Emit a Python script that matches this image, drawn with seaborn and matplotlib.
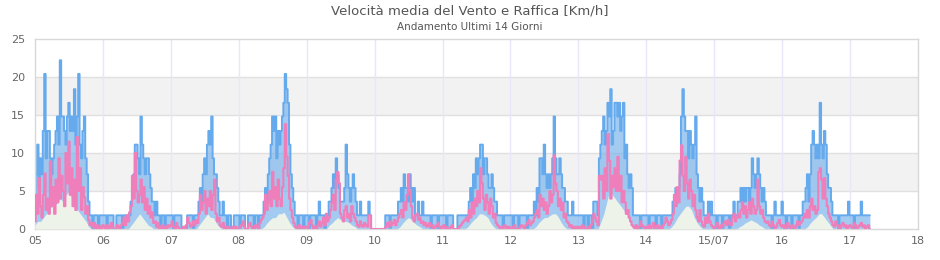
import numpy as np
import pandas as pd
import matplotlib
matplotlib.use("Agg")
import matplotlib.pyplot as plt
import seaborn as sns

# etichette asse x (un giorno per tacca)
day_labels = ["05", "06", "07", "08", "09", "10", "11", "12", "13", "14", "15/07", "16", "17", "18"]

# raffica [km/h], un valore ogni 30 minuti
gust_05 = [3.6, 7.2, 11.1, 5.4, 9.3, 7.2, 12.9, 20.4, 9.3, 12.9, 12.9, 9.3, 7.2, 9.3, 11.1, 12.9, 14.8, 11.1, 22.2, 14.8, 14.8, 12.9, 11.1, 14.8,
           16.6, 12.9, 14.8, 12.9, 18.4, 11.1, 14.8, 20.4, 11.1, 9.3, 12.9, 14.8, 9.3, 7.2, 3.6, 1.8, 1.8, 0, 1.8, 1.8, 1.8, 0, 1.8, 1.8]
gust_06 = [1.8, 1.8, 1.8, 0, 1.8, 1.8, 1.8, 1.8, 0, 0, 1.8, 1.8, 1.8, 1.8, 0, 1.8, 1.8, 1.8, 1.8, 1.8, 3.6, 5.4, 7.2, 11.1,
           11.1, 9.3, 7.2, 14.8, 11.1, 9.3, 7.2, 9.3, 9.3, 7.2, 5.4, 3.6, 3.6, 1.8, 3.6, 1.8, 1.8, 0, 1.8, 1.8, 0, 1.8, 1.8, 1.8]
gust_07 = [1.8, 1.8, 0, 1.8, 1.8, 1.8, 1.8, 1.8, 0, 0, 0, 0, 1.8, 1.8, 1.8, 1.8, 0, 1.8, 1.8, 1.8, 3.6, 5.4, 3.6, 7.2,
           9.3, 7.2, 11.1, 12.9, 11.1, 14.8, 9.3, 7.2, 7.2, 5.4, 3.6, 1.8, 1.8, 3.6, 1.8, 1.8, 0, 1.8, 1.8, 0, 0, 1.8, 1.8, 1.8]
gust_08 = [1.8, 0, 1.8, 1.8, 1.8, 0, 0, 1.8, 1.8, 1.8, 1.8, 0, 1.8, 1.8, 0, 1.8, 1.8, 1.8, 3.6, 5.4, 3.6, 7.2, 9.3, 11.1,
           14.8, 12.9, 14.8, 9.3, 12.9, 11.1, 12.9, 14.8, 16.6, 20.4, 18.4, 16.6, 11.1, 7.2, 5.4, 3.6, 1.8, 1.8, 0, 1.8, 1.8, 1.8, 0, 1.8]
gust_09 = [1.8, 1.8, 0, 1.8, 1.8, 1.8, 1.8, 0, 1.8, 3.6, 1.8, 1.8, 1.8, 0, 1.8, 1.8, 3.6, 3.6, 5.4, 7.2, 5.4, 9.3, 7.2, 5.4,
           3.6, 3.6, 3.6, 5.4, 11.1, 7.2, 5.4, 3.6, 5.4, 7.2, 5.4, 3.6, 1.8, 1.8, 3.6, 1.8, 1.8, 1.8, 1.8, 1.8, 3.6, 1.8, 0, 0]
gust_10 = [0, 0, 0, 0, 0, 0, 0, 0, 1.8, 1.8, 1.8, 0, 1.8, 1.8, 1.8, 1.8, 1.8, 3.6, 3.6, 5.4, 3.6, 7.2, 5.4, 5.4,
           3.6, 7.2, 5.4, 3.6, 5.4, 1.8, 1.8, 3.6, 1.8, 1.8, 3.6, 1.8, 1.8, 1.8, 1.8, 1.8, 0, 1.8, 1.8, 1.8, 1.8, 0, 1.8, 1.8]
gust_11 = [1.8, 1.8, 1.8, 0, 1.8, 1.8, 1.8, 1.8, 0, 0, 0, 1.8, 1.8, 1.8, 1.8, 1.8, 1.8, 1.8, 1.8, 3.6, 5.4, 3.6, 7.2, 5.4,
           9.3, 7.2, 9.3, 11.1, 11.1, 7.2, 9.3, 9.3, 7.2, 5.4, 5.4, 7.2, 5.4, 3.6, 3.6, 1.8, 1.8, 1.8, 1.8, 0, 1.8, 1.8, 1.8, 1.8]
gust_12 = [1.8, 1.8, 0, 1.8, 1.8, 1.8, 0, 1.8, 1.8, 1.8, 1.8, 1.8, 0, 1.8, 1.8, 1.8, 1.8, 3.6, 1.8, 5.4, 3.6, 9.3, 9.3, 7.2,
           11.1, 7.2, 5.4, 7.2, 5.4, 7.2, 9.3, 14.8, 9.3, 7.2, 7.2, 9.3, 7.2, 5.4, 5.4, 3.6, 3.6, 1.8, 1.8, 1.8, 3.6, 1.8, 1.8, 1.8]
gust_13 = [1.8, 1.8, 1.8, 1.8, 0, 1.8, 1.8, 0, 1.8, 1.8, 0, 3.6, 3.6, 3.6, 1.8, 9.3, 11.1, 12.9, 14.8, 11.1, 12.9, 16.6, 14.8, 18.4,
           11.1, 12.9, 16.6, 16.6, 14.8, 16.6, 12.9, 14.8, 16.6, 9.3, 11.1, 7.2, 5.4, 7.2, 5.4, 1.8, 1.8, 1.8, 1.8, 1.8, 0, 1.8, 1.8, 1.8]
gust_14 = [1.8, 1.8, 0, 1.8, 1.8, 1.8, 1.8, 0, 1.8, 1.8, 1.8, 0, 1.8, 1.8, 1.8, 1.8, 1.8, 1.8, 1.8, 3.6, 3.6, 5.4, 3.6, 5.4,
           7.2, 14.8, 18.4, 14.8, 12.9, 12.9, 9.3, 12.9, 11.1, 9.3, 11.1, 14.8, 7.2, 5.4, 3.6, 5.4, 3.6, 1.8, 1.8, 1.8, 3.6, 1.8, 3.6, 1.8]
gust_15 = [1.8, 1.8, 0, 1.8, 1.8, 1.8, 0, 1.8, 1.8, 1.8, 1.8, 0, 1.8, 1.8, 3.6, 1.8, 1.8, 3.6, 3.6, 5.4, 3.6, 5.4, 3.6, 5.4,
           5.4, 3.6, 5.4, 9.3, 7.2, 5.4, 7.2, 9.3, 7.2, 5.4, 3.6, 5.4, 3.6, 1.8, 1.8, 1.8, 1.8, 0, 1.8, 3.6, 1.8, 1.8, 1.8, 1.8]
gust_16 = [3.6, 1.8, 1.8, 0, 1.8, 1.8, 1.8, 0, 1.8, 1.8, 1.8, 1.8, 0, 1.8, 1.8, 3.6, 3.6, 5.4, 7.2, 3.6, 7.2, 11.1, 12.9, 11.1,
           9.3, 11.1, 9.3, 16.6, 11.1, 9.3, 12.9, 11.1, 7.2, 5.4, 5.4, 3.6, 1.8, 1.8, 1.8, 1.8, 0, 1.8, 1.8, 1.8, 1.8, 1.8, 1.8, 3.6]
gust_17 = [1.8, 1.8, 1.8, 0, 1.8, 1.8, 1.8, 1.8, 3.6, 1.8, 1.8, 1.8, 1.8, 1.8, 1.8]

# velocita media [km/h], un valore ogni 30 minuti
avg_05 = [1.0, 4.5, 2.0, 6.7, 3.0, 1.5, 4.5, 7.3, 2.5, 4.0, 2.0, 8.9, 3.0, 5.5, 2.0, 6.5, 3.5, 9.3, 4.0, 7.0, 5.0, 3.0, 10.0, 6.0,
          11.5, 4.5, 8.0, 3.0, 6.5, 2.5, 12.1, 5.0, 8.0, 2.5, 5.5, 4.2, 2.0, 3.0, 1.2, 0.5, 0.8, 0.3, 0.8, 0, 0.5, 0, 0.3, 0]
avg_06 = [0.5, 0.3, 0, 0.5, 0.3, 0, 0.8, 0.3, 0, 0, 0.5, 0.3, 0, 0.5, 0.8, 1.5, 0.5, 1.8, 1.0, 2.2, 3.0, 7.0, 4.0, 10.0,
          5.0, 3.5, 4.5, 6.5, 3.5, 5.5, 2.5, 4.0, 2.0, 3.0, 1.5, 2.2, 0.8, 1.0, 0.3, 0.8, 0, 0.3, 0.5, 0, 0.3, 0, 0.5, 0.3]
avg_07 = [0.5, 1.0, 0.3, 0, 0.8, 0.3, 0, 0, 0, 0.3, 0, 0.5, 1.5, 0.8, 0.3, 0.5, 1.0, 0.5, 1.2, 0.8, 2.0, 4.5, 2.5, 3.5,
          5.0, 2.0, 4.0, 3.0, 5.0, 2.5, 4.5, 6.5, 2.0, 1.0, 1.5, 0.5, 0.3, 0.8, 0, 0.3, 0, 0.3, 0, 0, 0.3, 0, 0.3, 0]
avg_08 = [0, 0.3, 0.5, 1.0, 0.3, 0, 0, 0.5, 0.8, 0.3, 0, 0, 0.5, 0.3, 0, 0.8, 1.2, 1.5, 2.0, 4.5, 2.5, 3.5, 5.0, 3.0,
          7.5, 4.0, 5.5, 3.0, 6.5, 4.0, 3.0, 5.5, 8.0, 13.8, 9.5, 7.0, 4.0, 2.5, 1.5, 0.8, 0.3, 0, 0.3, 0.5, 0, 0.3, 0, 0.3]
avg_09 = [0.3, 0, 0.8, 1.2, 0.5, 0, 0.3, 0, 0.5, 1.0, 0.3, 0.8, 1.5, 0.5, 2.0, 1.0, 1.5, 2.5, 3.5, 4.5, 2.5, 6.5, 7.5, 6.0,
          2.0, 1.5, 1.0, 2.5, 3.0, 1.5, 2.0, 1.0, 3.0, 2.0, 1.5, 1.0, 0.5, 0.3, 1.0, 0.5, 0.3, 0.8, 0.5, 0.3, 1.8, 1.8, 0, 0]
avg_10 = [0, 0, 0, 0, 0, 0, 0, 0, 0.3, 0.8, 0.3, 1.0, 0.5, 0.8, 1.2, 0.5, 1.0, 1.5, 2.0, 2.5, 1.5, 3.5, 2.5, 4.5,
          7.2, 5.0, 3.0, 1.5, 1.0, 1.8, 2.0, 1.2, 1.5, 0.8, 1.0, 0.5, 0.8, 0.3, 0.5, 0.8, 0.3, 0.5, 0, 0.3, 0.5, 0.8, 0.3, 0]
avg_11 = [0.3, 0.5, 0, 0.3, 0, 0, 0.3, 0.5, 0, 0, 0, 0, 0.3, 0.5, 0.8, 1.0, 1.2, 1.5, 1.0, 2.5, 1.5, 3.5, 2.0, 4.0,
          3.0, 5.0, 3.5, 8.0, 6.0, 4.0, 2.5, 4.5, 3.5, 2.0, 4.0, 3.0, 1.5, 2.0, 0.8, 0.5, 0.3, 0, 0.3, 0, 0.5, 0.3, 0, 0.3]
avg_12 = [0, 0, 0.3, 0.5, 0, 0, 0, 0.3, 0.5, 0.3, 0, 0.5, 0.8, 1.2, 0.5, 0.8, 1.0, 1.5, 2.0, 2.5, 1.5, 4.5, 3.0, 4.0,
          2.5, 3.5, 2.0, 3.0, 5.0, 3.5, 4.5, 9.7, 6.0, 5.0, 3.0, 4.0, 2.5, 3.5, 1.5, 2.0, 1.0, 0.8, 0.3, 0.5, 0, 0.3, 0, 0.3]
avg_13 = [0, 0.3, 0, 0.5, 0.3, 0, 0, 0.3, 0, 0.5, 1.0, 2.0, 1.5, 1.0, 0.5, 7.0, 6.5, 7.0, 4.0, 8.0, 5.0, 12.5, 9.0, 4.0,
          7.0, 5.5, 8.0, 5.0, 9.5, 5.0, 7.0, 3.5, 5.0, 3.5, 2.0, 2.5, 1.5, 1.0, 0.5, 0.3, 0, 0.5, 0, 0.3, 1.0, 0.5, 0.3, 0]
avg_14 = [0.3, 0, 0.5, 0, 0.3, 0.8, 0, 0.3, 0.5, 0, 0.3, 0, 0.5, 0.8, 1.5, 1.0, 0.5, 0.8, 1.2, 2.0, 4.5, 3.0, 5.5, 3.5,
          9.0, 11.0, 7.0, 5.0, 9.5, 6.0, 4.0, 6.5, 5.0, 3.0, 4.5, 2.5, 1.5, 1.0, 2.5, 1.0, 0.5, 0.3, 1.5, 0.8, 2.0, 1.0, 0.5, 0.3]
avg_15 = [0, 0.3, 0.8, 0.3, 0, 0.5, 0.3, 0.8, 1.0, 0.5, 1.2, 0.8, 0.5, 1.5, 2.0, 1.0, 1.5, 2.0, 1.5, 2.5, 3.5, 2.0, 3.0, 1.5,
          2.5, 3.5, 2.0, 4.0, 3.0, 2.0, 2.5, 6.5, 3.0, 2.0, 2.5, 1.5, 1.0, 0.8, 1.0, 0.5, 0.3, 1.0, 0.5, 0, 0.3, 0.8, 1.2, 0.5]
avg_16 = [0.3, 0.5, 0, 0.3, 0.8, 0.3, 0, 0.5, 0.3, 0, 0.5, 1.0, 0.5, 0.8, 1.0, 1.5, 2.0, 1.5, 2.5, 1.5, 3.0, 4.0, 2.5, 3.0,
          2.0, 2.5, 7.5, 8.0, 6.5, 4.0, 6.7, 4.0, 3.0, 2.0, 1.5, 1.0, 0.5, 0.3, 1.0, 0.5, 0.3, 0, 0.5, 0.8, 0.3, 0.5, 0, 0.3]
avg_17 = [0.5, 0.3, 0, 0.8, 0.5, 0, 0.3, 0.5, 0.8, 0.3, 0.5, 0, 0.3, 0.5, 0]

# media oraria (area verde chiara), un valore ogni ora
base_05 = [0.5, 1, 1, 1.5, 2, 2.5, 3, 3, 3.5, 4, 3.5, 4.5, 5, 4, 3, 2.5, 2, 1.5, 1, 0.3, 0, 0, 0, 0]
base_06 = [0, 0, 0, 0, 0, 0, 0, 0, 0, 0, 0.5, 1, 1.5, 2, 1.5, 1, 0.5, 0.3, 0, 0, 0, 0, 0, 0]
base_07 = [0, 0, 0, 0, 0, 0, 0, 0, 0, 0, 0.5, 1, 1.5, 2, 1.5, 1.5, 0.8, 0.3, 0, 0, 0, 0, 0, 0]
base_08 = [0, 0, 0, 0, 0, 0, 0, 0, 0, 0.3, 0.8, 1.2, 1.5, 1.5, 2, 2, 2.2, 1.5, 0.8, 0.3, 0, 0, 0, 0]
base_09 = [0, 0, 0, 0, 0, 0, 0, 0, 0.5, 0.8, 1.2, 1.5, 1.2, 1, 1, 0.8, 0.5, 0.3, 0, 0, 0, 0, 0, 0]
base_10 = [0, 0, 0, 0, 0, 0, 0, 0, 0, 0.3, 0.8, 1.2, 1.5, 1.2, 0.8, 0.5, 0.3, 0, 0, 0, 0, 0, 0, 0]
base_11 = [0, 0, 0, 0, 0, 0, 0, 0, 0, 0.3, 0.8, 1.2, 1.5, 2, 2, 1.8, 1.5, 0.8, 0.3, 0, 0, 0, 0, 0]
base_12 = [0, 0, 0, 0, 0, 0, 0, 0, 0, 0.3, 0.8, 1.2, 1.5, 1.5, 1.8, 2, 2, 1.5, 0.8, 0.3, 0, 0, 0, 0]
base_13 = [0, 0, 0, 0, 0, 0, 0, 0, 1, 2, 3.5, 5, 4.5, 4, 3.5, 3, 2.5, 2, 1, 0.5, 0, 0, 0, 0]
base_14 = [0, 0, 0, 0, 0, 0, 0, 0, 0, 0.3, 0.8, 1.5, 2, 2.5, 3, 3, 2.5, 1.5, 0.8, 0.3, 0, 0, 0, 0]
base_15 = [0, 0, 0, 0, 0, 0, 0, 0, 0, 0.3, 0.5, 0.8, 1, 1.2, 1, 0.8, 0.5, 0.3, 0, 0, 0, 0, 0, 0]
base_16 = [0, 0, 0, 0, 0, 0, 0, 0, 0, 0.3, 0.8, 1.2, 1.5, 2, 2, 1.5, 1, 0.5, 0, 0, 0, 0, 0, 0]
base_17 = [0, 0, 0, 0, 0, 0, 0, 0]

gust = (gust_05 + gust_06 + gust_07 + gust_08 + gust_09 + gust_10 + gust_11
        + gust_12 + gust_13 + gust_14 + gust_15 + gust_16 + gust_17)
avg = (avg_05 + avg_06 + avg_07 + avg_08 + avg_09 + avg_10 + avg_11
       + avg_12 + avg_13 + avg_14 + avg_15 + avg_16 + avg_17)
base = (base_05 + base_06 + base_07 + base_08 + base_09 + base_10 + base_11
        + base_12 + base_13 + base_14 + base_15 + base_16 + base_17)

df = pd.DataFrame({"giorno": np.arange(len(gust)) / 48, "raffica": gust, "media": avg})
df_base = pd.DataFrame({"giorno": np.arange(len(base)) / 24, "base": base})

sns.set_theme(style="white")
plt.rcParams['font.family'] = ['DejaVu Sans']

fig = plt.figure(figsize=(9.4, 2.6), dpi=100)
ax = fig.add_axes([35 / 940, 31 / 260, 883 / 940, 190 / 260])

# bande alternate e griglia
for lo, hi in [(5, 10), (15, 20)]:
    ax.axhspan(lo, hi, color='#f2f2f2', lw=0, zorder=0)
for y in [5, 10, 15, 20]:
    ax.axhline(y, color='#e0e0e0', lw=1, zorder=0.5)
for d in range(1, 13):
    ax.axvline(d, color='#e8e6fa', lw=1, zorder=0.5)

ax.fill_between(df["giorno"], df["raffica"], step='mid', color='#7cb5ec', alpha=0.7, lw=0, zorder=1)
sns.lineplot(data=df, x="giorno", y="raffica", ax=ax, color='#66aaee', lw=1.4,
             estimator=None, drawstyle='steps-mid', zorder=2)
ax.fill_between(df_base["giorno"], df_base["base"], color='#eef3ea', lw=0, zorder=3)
sns.lineplot(data=df, x="giorno", y="media", ax=ax, color='#ee7fbb', lw=1.5,
             estimator=None, drawstyle='steps-mid', zorder=4)

ax.set_xlim(0, 13)
ax.set_ylim(0, 25)
ax.set_yticks(range(0, 26, 5))
ax.set_xticks(range(14))
ax.set_xticklabels(day_labels)
ax.set_xlabel("")
ax.set_ylabel("")
ax.tick_params(axis='both', length=0, labelsize=8, colors='#666666')
ax.tick_params(axis='x', pad=5)
ax.tick_params(axis='y', pad=7)
for s in ax.spines.values():
    s.set_color('#d8d8d8')
    s.set_linewidth(1)

fig.text(0.5, 1 - 11 / 260, "Velocità media del Vento e Raffica [Km/h]", ha='center', va='center',
         fontsize=9.5, color='#555555')
fig.text(0.5, 1 - 27 / 260, "Andamento Ultimi 14 Giorni", ha='center', va='center',
         fontsize=7.5, color='#555555')

fig.savefig("out.png", dpi=100)
